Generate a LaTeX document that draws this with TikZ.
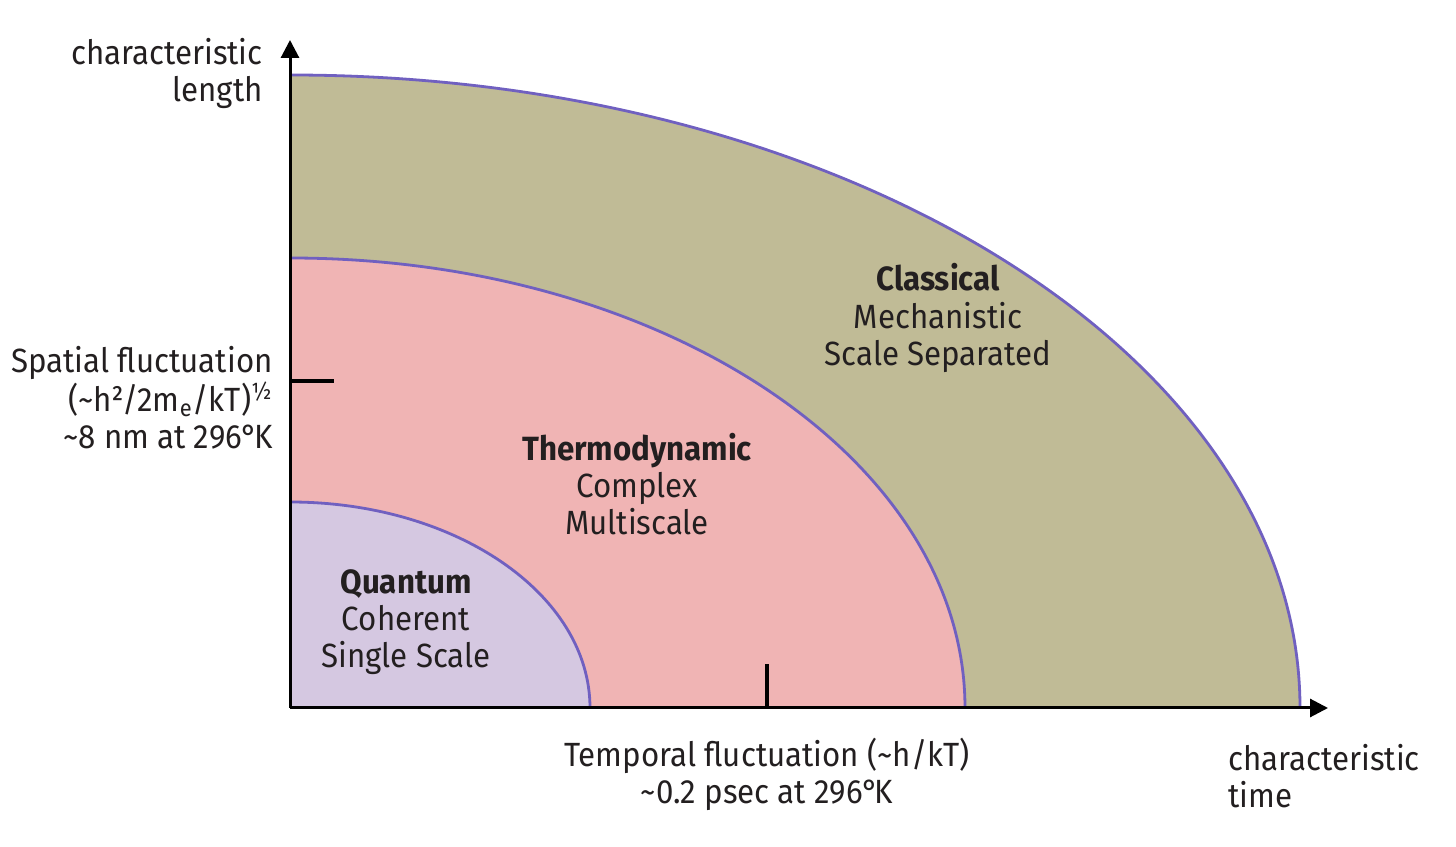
\documentclass[tikz,border=0pt]{standalone}
\usepackage{fontspec}
\setmainfont{Fira Sans}[FakeStretch=0.93]
\usetikzlibrary{arrows.meta}
\definecolor{clsfill}{HTML}{C0BB96}
\definecolor{thmfill}{HTML}{F0B4B4}
\definecolor{qfill}{HTML}{D5C8E1}
\definecolor{arcline}{HTML}{7060C0}
\definecolor{txt}{HTML}{231F20}
\begin{document}
\begin{tikzpicture}[x=0.5pt,y=0.5pt,
  lbl/.style={font=\fontsize{16.8}{18.6}\selectfont, text=txt, align=center, inner sep=0pt},
  arcstroke/.style={draw=arcline, line width=1.4pt},
  axisline/.style={draw=black, line width=1.5pt, -{Triangle[width=9pt,length=9pt]}},
  tickline/.style={draw=black, line width=2pt}]
\useasboundingbox (0,0) rectangle (1456,846);
\coordinate (O) at (290,138);
\coordinate (ytip) at (290,806);
\coordinate (xtip) at (1328,138);
\coordinate (outerTop) at (290,771);
\coordinate (midTop) at (290,588);
\coordinate (inTop) at (290,344);
% regions
\fill[clsfill] (O) -- (outerTop) arc[start angle=90,end angle=0,x radius=505pt,y radius=316.5pt] -- cycle;
\fill[thmfill] (O) -- (midTop) arc[start angle=90,end angle=0,x radius=337.5pt,y radius=225pt] -- cycle;
\fill[qfill] (O) -- (inTop) arc[start angle=90,end angle=0,x radius=150pt,y radius=103pt] -- cycle;
\draw[arcstroke] (outerTop) arc[start angle=90,end angle=0,x radius=505pt,y radius=316.5pt];
\draw[arcstroke] (midTop) arc[start angle=90,end angle=0,x radius=337.5pt,y radius=225pt];
\draw[arcstroke] (inTop) arc[start angle=90,end angle=0,x radius=150pt,y radius=103pt];
% axes
\draw[axisline] (O) -- (ytip);
\draw[axisline] (O) -- (xtip);
% ticks
\coordinate (tyA) at (290,465);
\coordinate (tyB) at (334,465);
\coordinate (txA) at (767,138);
\coordinate (txB) at (767,182);
\draw[tickline] (tyA) -- (tyB);
\draw[tickline] (txA) -- (txB);
% labels
\node[lbl, align=right, anchor=east] (charlen) at (263,772.5) {characteristic\\length};
\node[lbl, align=right, anchor=east] (spatial) at (273,448) {Spatial fluctuation\\(\textasciitilde h²/2m\textsubscript{e}/kT)\textsuperscript{½}\\\textasciitilde 8 nm at 296°\kern-0.12em K};
\node[lbl] (temporal) at (767,72) {Temporal fluctuation (\textasciitilde h/kT)\\\textasciitilde 0.2 psec at 296°\kern-0.12em K};
\node[lbl, align=left, anchor=west] (chartime) at (1228,70) {characteristic\\time};
\node[lbl] (classical) at (938,528) {\textbf{Classical}\\Mechanistic\\Scale Separated};
\node[lbl] (thermo) at (637,362) {\textbf{Thermodynamic}\\Complex\\Multiscale};
\node[lbl] (quantum) at (406,224) {\textbf{Quantum}\\Coherent\\Single Scale};
\end{tikzpicture}
\end{document}
